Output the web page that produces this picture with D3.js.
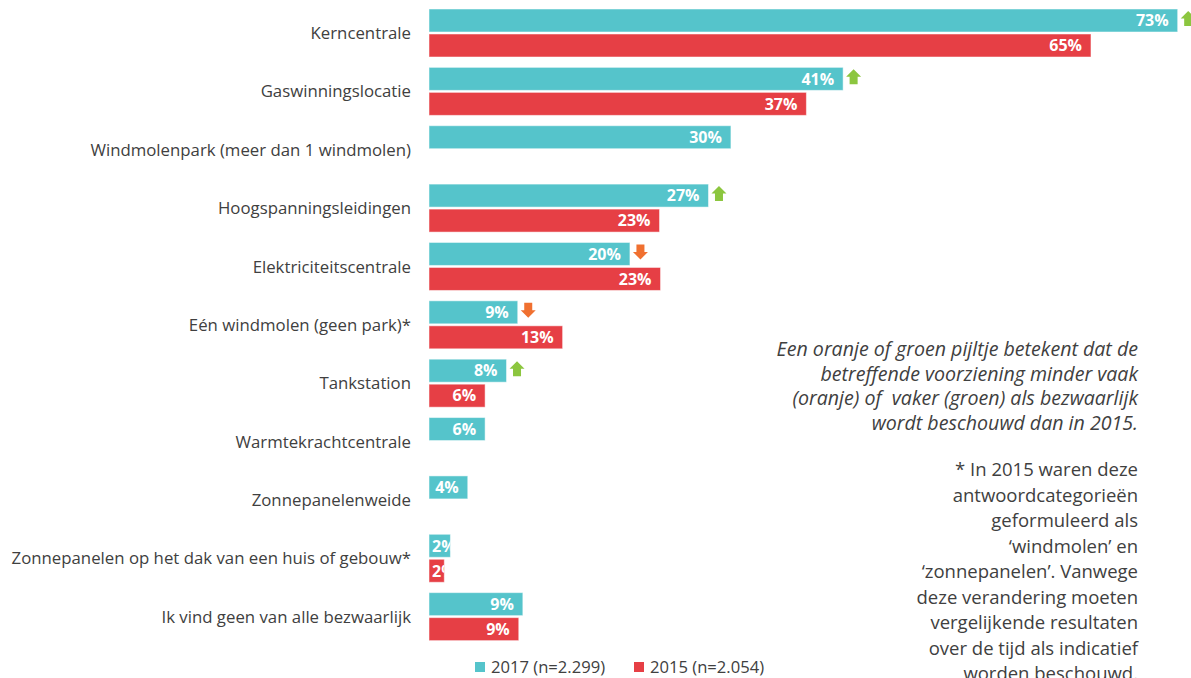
<!DOCTYPE html>
<html>
<head>
<meta charset="utf-8">
<script src="https://cdn.jsdelivr.net/npm/d3@7"></script>
<style>
html,body{margin:0;padding:0;background:#fff;}
svg{display:block;font-family:"Open Sans","Noto Sans",sans-serif;}
</style>
</head>
<body>
<svg id="chart" width="1191" height="678"></svg>
<script>
const categories = [
  "Kerncentrale",
  "Gaswinningslocatie",
  "Windmolenpark (meer dan 1 windmolen)",
  "Hoogspanningsleidingen",
  "Elektriciteitscentrale",
  "Eén windmolen (geen park)*",
  "Tankstation",
  "Warmtekrachtcentrale",
  "Zonnepanelenweide",
  "Zonnepanelen op het dak van een huis of gebouw*",
  "Ik vind geen van alle bezwaarlijk"
];
const values2017 = [73.4, 40.6, 29.6, 27.4, 19.7, 8.7, 7.6, 5.5, 3.8, 2.1, 9.2];
const values2015 = [64.9, 37.0, null, 22.6, 22.7, 13.1, 5.5, null, null, 1.5, 8.8];
const changes = ["up", "up", null, "up", "down", "down", "up", null, null, null, null];
const seriesNames = ["2017", "2015"];
const legendLabels = ["2017 (n=2.299)", "2015 (n=2.054)"];
const noteLines1 = [
  "Een oranje of groen pijltje betekent dat de",
  "betreffende voorziening minder vaak",
  "(oranje) of  vaker (groen) als bezwaarlijk",
  "wordt beschouwd dan in 2015."
];
const noteLines2 = [
  "* In 2015 waren deze",
  "antwoordcategorieën",
  "geformuleerd als",
  "‘windmolen’ en",
  "‘zonnepanelen’. Vanwege",
  "deze verandering moeten",
  "vergelijkende resultaten",
  "over de tijd als indicatief",
  "worden beschouwd."
];

const colors = {"2017": "#55c4cb", "2015": "#e63f45"};
const arrowColors = {up: "#8cc63f", down: "#f07030"};
const textColor = "#404040";

const svg = d3.select("#chart");
const x = d3.scaleLinear().domain([0, 100]).range([429, 1449]);
const y0 = d3.scaleBand().domain(categories).range([4, 646]);
const y1 = d3.scaleBand().domain(seriesNames).range([5, 53]).paddingInner(0.08);

const rows = categories.map((c, i) => ({
  cat: c, i,
  bars: [{s: "2017", v: values2017[i]}, {s: "2015", v: values2015[i]}].filter(d => d.v != null),
  change: changes[i]
}));

const defs = svg.append("defs");

// category labels
svg.append("g").selectAll("text").data(categories).join("text")
  .attr("x", 411)
  .attr("y", d => y0(d) + y0.bandwidth() / 2)
  .attr("dy", "0.35em")
  .attr("text-anchor", "end")
  .attr("fill", textColor)
  .style("font-size", "16.8px")
  .text(d => d);

const g = svg.append("g").selectAll("g").data(rows).join("g")
  .attr("transform", d => `translate(0,${y0(d.cat)})`);

g.each(function(row) {
  const sel = d3.select(this);
  row.bars.forEach(b => {
    const id = `clip-${row.i}-${b.s}`;
    const by = y1(b.s), bh = y1.bandwidth();
    defs.append("clipPath").attr("id", id).append("rect")
      .attr("x", x(0)).attr("y", y0(row.cat) + by)
      .attr("width", x(b.v) - x(0)).attr("height", bh);
    sel.append("rect")
      .attr("x", x(0)).attr("y", by)
      .attr("width", x(b.v) - x(0)).attr("height", bh)
      .attr("fill", colors[b.s])
      .attr("stroke", "#ffffff").attr("stroke-opacity", 0.5).attr("stroke-width", 1);
    const t = svg.append("text")
      .attr("clip-path", `url(#${id})`)
      .attr("x", x(b.v) - 9)
      .attr("y", y0(row.cat) + by + bh / 2)
      .attr("dy", "0.36em")
      .attr("text-anchor", "end")
      .attr("fill", "#fff")
      .style("font-size", "16px")
      .style("font-weight", "bold")
      .text(Math.round(b.v) + "%");
    const tw = t.node().getComputedTextLength();
    if (x(b.v) - 9 - tw < x(0) + 2) {
      t.attr("text-anchor", "start").attr("x", x(0) + 3);
    }
  });
  if (row.change) {
    const v = values2017[row.i];
    const ax = x(v) + 3, ay = y1("2017") + 2, w = 15, h = 15, sw = 8, hh = 7.5;
    let p;
    if (row.change === "up") {
      p = [[ax + w/2, ay], [ax + w, ay + hh], [ax + w/2 + sw/2, ay + hh], [ax + w/2 + sw/2, ay + h],
           [ax + w/2 - sw/2, ay + h], [ax + w/2 - sw/2, ay + hh], [ax, ay + hh]];
    } else {
      p = [[ax + w/2 - sw/2, ay], [ax + w/2 + sw/2, ay], [ax + w/2 + sw/2, ay + h - hh], [ax + w, ay + h - hh],
           [ax + w/2, ay + h], [ax, ay + h - hh], [ax + w/2 - sw/2, ay + h - hh]];
    }
    sel.append("path").attr("d", d3.line()(p) + "Z").attr("fill", arrowColors[row.change]);
  }
});

// legend
const legend = svg.append("g").selectAll("g").data(seriesNames).join("g")
  .attr("transform", (d, i) => `translate(${[475, 634][i]},662)`);
legend.append("rect").attr("width", 10).attr("height", 10).attr("fill", d => colors[d]);
legend.append("text").attr("x", 16).attr("y", 5).attr("dy", "0.36em")
  .attr("fill", textColor).style("font-size", "16.6px")
  .text((d, i) => legendLabels[i]);

// notes
svg.append("g").selectAll("text").data(noteLines1).join("text")
  .attr("x", 1138).attr("y", (d, i) => 356 + i * 24.7)
  .attr("text-anchor", "end").attr("fill", textColor)
  .style("font-size", "19.6px").style("font-style", "italic")
  .style("white-space", "pre")
  .text(d => d);
svg.append("g").selectAll("text").data(noteLines2).join("text")
  .attr("x", 1138).attr("y", (d, i) => 476 + i * 25.5)
  .attr("text-anchor", "end").attr("fill", textColor)
  .style("font-size", "18.5px")
  .text(d => d);
</script>
</body>
</html>
